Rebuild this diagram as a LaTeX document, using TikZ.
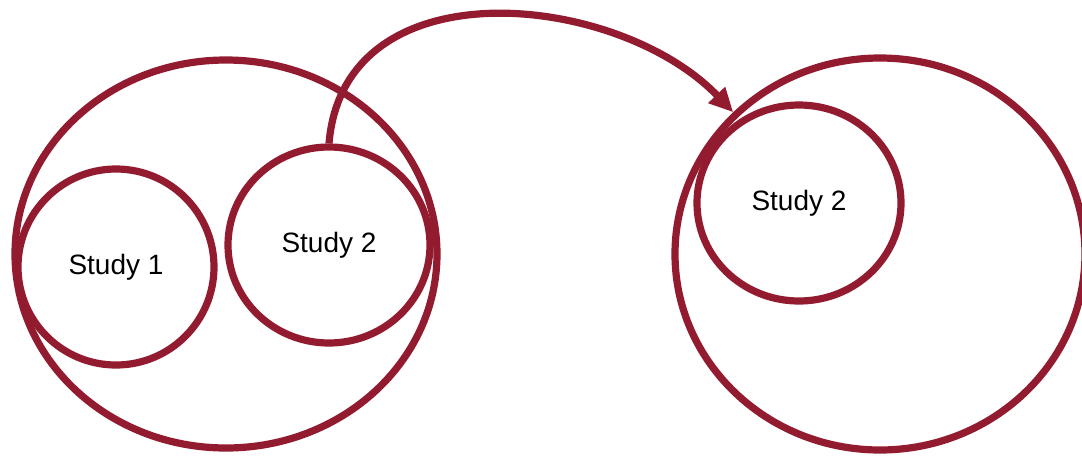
\documentclass[tikz,border=0pt]{standalone}
\usepackage{fontspec}
\setmainfont{Liberation Sans}
\usetikzlibrary{shapes.geometric, arrows.meta}
\definecolor{studyred}{HTML}{931B30}

\begin{document}
\begin{tikzpicture}[x=0.5pt, y=-0.5pt,
  font=\fontsize{14pt}{16pt}\selectfont,
  % Studies and their frames = plain ellipses
  frame/.style={ellipse, draw=studyred, line width=3.6pt, inner sep=0pt},
  study/.style={frame, align=center},
  arrow/.style={draw=studyred, line width=3.6pt, -{Triangle[length=12pt, width=11pt]}}
]
\useasboundingbox (0,0) rectangle (1082,456);

% ---- Frames (left and right) ----
\node[frame, minimum width=211pt, minimum height=194pt] (frameL) at (226,254) {};
\node[frame, minimum width=205pt, minimum height=196pt] (frameR) at (880,254) {};

% ---- Studies ----
\node[study, minimum width=98pt, minimum height=98pt] (s1) at (116,267) {Study 1};
\node[study, minimum width=101pt, minimum height=98pt] (s2L) at (329,245) {Study 2};
\node[study, minimum width=102pt, minimum height=98pt] (s2R) at (799,203) {Study 2};

% ---- Transfer ----
\draw[arrow] (s2L.north) .. controls +(15,-180) and +(-115,-120) .. (frameR.136);

\end{tikzpicture}
\end{document}
